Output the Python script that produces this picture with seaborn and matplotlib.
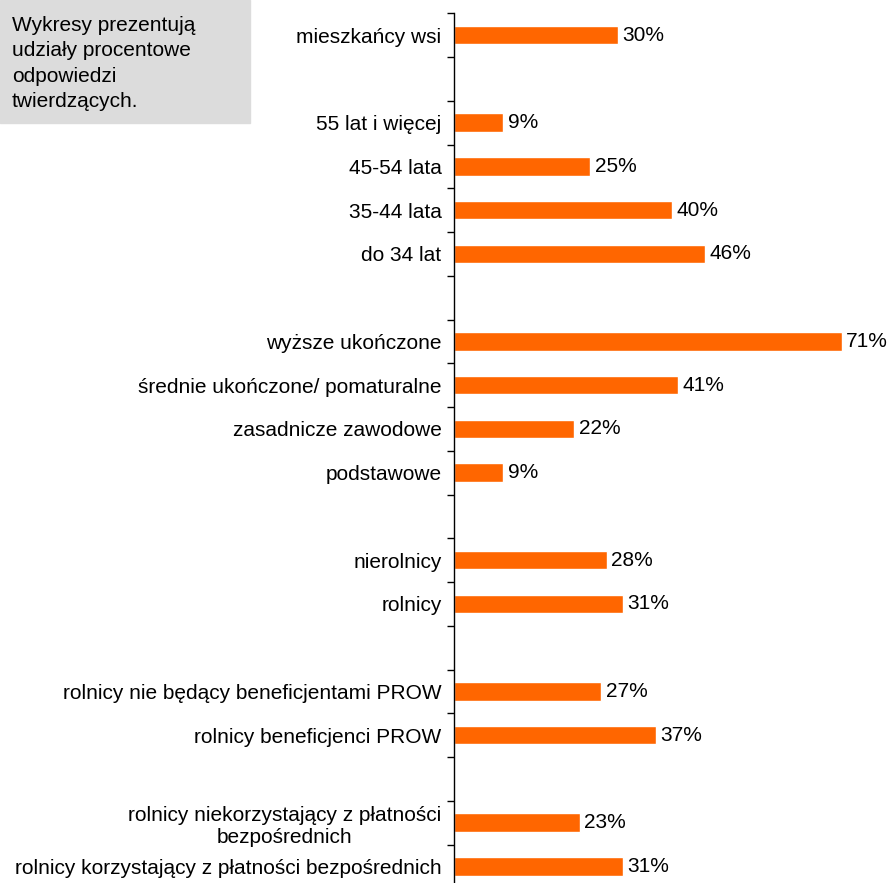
import matplotlib
matplotlib.use('Agg')
import matplotlib.pyplot as plt
import matplotlib.patches as mpatches
from matplotlib.ticker import FixedLocator
import numpy as np
import pandas as pd
import seaborn as sns

# categories top to bottom, blank strings are the gaps between groups
categories = [
    'mieszkańcy wsi', ' ',
    '55 lat i więcej', '45-54 lata', '35-44 lata', 'do 34 lat', '  ',
    'wyższe ukończone', 'średnie ukończone/ pomaturalne', 'zasadnicze zawodowe', 'podstawowe', '   ',
    'nierolnicy', 'rolnicy', '    ',
    'rolnicy nie będący beneficjentami PROW', 'rolnicy beneficjenci PROW', '     ',
    'rolnicy niekorzystający z płatności\nbezpośrednich', 'rolnicy korzystający z płatności bezpośrednich',
]
values = [30, np.nan,
          9, 25, 40, 46, np.nan,
          71, 41, 22, 9, np.nan,
          28, 31, np.nan,
          27, 37, np.nan,
          23, 31]
note = 'Wykresy prezentują\nudziały procentowe\nodpowiedzi\ntwierdzących.'

sns.set_style('white')
plt.rcParams['font.family'] = ['Liberation Sans', 'DejaVu Sans']
plt.rcParams['text.color'] = 'black'
plt.rcParams['ytick.color'] = 'black'
plt.rcParams['ytick.labelcolor'] = 'black'

df = pd.DataFrame({'kat': categories, 'val': values})

W, H = 888, 883
fig = plt.figure(figsize=(W / 100, H / 100), dpi=100)
ax = fig.add_axes([454 / W, 0, 1 - 454 / W - 0.005, 1 - 13.3 / H])

sns.barplot(data=df.dropna(), x='val', y='kat', order=categories, color='#FF6600',
            width=0.42, saturation=1, ax=ax)

ax.set_xlim(0, 78.7)
ax.set_ylim(19.38, -0.5)
ax.set_xlabel('')
ax.set_ylabel('')
ax.set_xticks([])
for s in ['top', 'right', 'bottom']:
    ax.spines[s].set_visible(False)
ax.spines['left'].set_color('black')
ax.spines['left'].set_linewidth(1.0)

ax.tick_params(axis='y', which='major', length=0, pad=9, labelsize=15)
ax.yaxis.set_minor_locator(FixedLocator(np.arange(-0.5, 20, 1)))
ax.tick_params(axis='y', which='minor', length=5, width=1, color='black', direction='out', left=True)
for lab in ax.get_yticklabels():
    lab.set_multialignment('center')

for c in ax.containers:
    ax.bar_label(c, labels=[f'{v:.0f}%' for v in c.datavalues], padding=3.2, fontsize=15)

fig.patches.append(mpatches.Rectangle((0, 1 - 123 / H), 250 / W, 123 / H,
                                      transform=fig.transFigure, color='#DCDCDC', zorder=0))
fig.text(12 / W, 1 - 16 / H, note, ha='left', va='top', fontsize=15, linespacing=1.42)

fig.savefig('out.png', dpi=100)
